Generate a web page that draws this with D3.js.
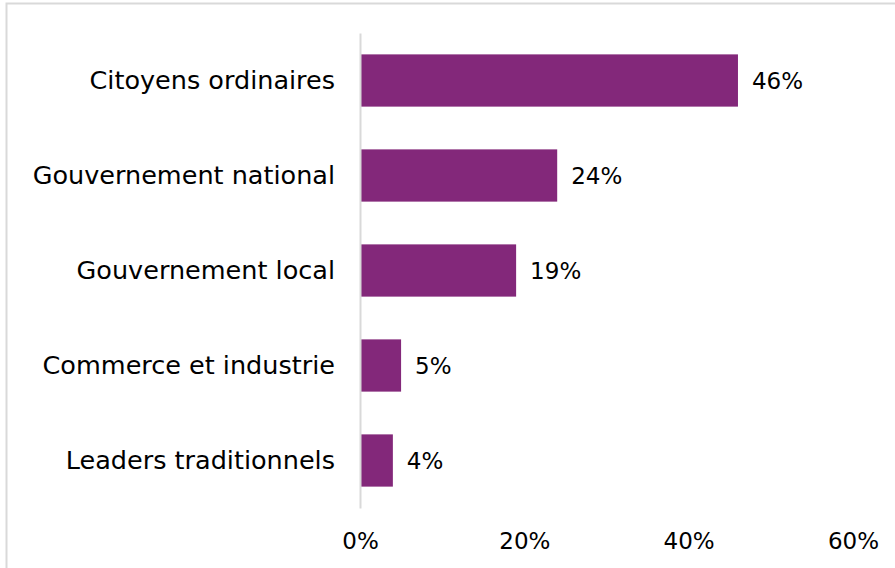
<!DOCTYPE html>
<html>
<head>
<meta charset="utf-8">
<script src="https://cdn.jsdelivr.net/npm/d3@7"></script>
<style>
  html, body { margin: 0; padding: 0; background: #fff; }
  svg { display: block; }
  text { font-family: "DejaVu Sans", sans-serif; fill: #000; }
</style>
</head>
<body>
<svg id="chart" width="895" height="568"></svg>
<script>
// Who should be responsible for the problem (share of respondents)
const categories = [
  "Citoyens ordinaires",
  "Gouvernement national",
  "Gouvernement local",
  "Commerce et industrie",
  "Leaders traditionnels"
];
const values = [0.46, 0.24, 0.19, 0.05, 0.04];
const tickValues = [0, 0.2, 0.4, 0.6];

const svg = d3.select("#chart");
const W = 895, H = 568;

// outer frame
svg.append("rect")
  .attr("x", 6.5).attr("y", 3.5)
  .attr("width", W + 10).attr("height", H + 10)
  .attr("fill", "none").attr("stroke", "#d9d9d9").attr("stroke-width", 2);

const plot = { left: 360, right: 853, top: 33, bottom: 508 };

const x = d3.scaleLinear().domain([0, 0.6]).range([plot.left, plot.right]);
const y = d3.scaleBand().domain(categories).range([plot.top, plot.bottom]).paddingInner(0.45).paddingOuter(0.225);

// bars
svg.append("g").selectAll("rect")
  .data(values)
  .join("rect")
  .attr("x", x(0))
  .attr("y", (d, i) => y(categories[i]))
  .attr("width", d => x(d) - x(0))
  .attr("height", y.bandwidth())
  .attr("fill", "#83287a");

// value labels
svg.append("g").selectAll("text")
  .data(values)
  .join("text")
  .attr("x", d => x(d) + 14)
  .attr("y", (d, i) => y(categories[i]) + y.bandwidth() / 2)
  .attr("dy", "0.36em")
  .attr("font-size", 23)
  .text(d => d3.format(".0%")(d));

// category axis
const yAxis = svg.append("g")
  .attr("transform", `translate(${plot.left},0)`)
  .call(d3.axisLeft(y).tickSize(0).tickPadding(25));
yAxis.select(".domain").attr("stroke", "#d9d9d9").attr("stroke-width", 2);
yAxis.selectAll("text").attr("font-size", 25.5).attr("fill", "#000")
  .style("font-family", "DejaVu Sans, sans-serif");

// value axis (labels only)
const xAxis = svg.append("g")
  .attr("transform", `translate(0,${plot.bottom})`)
  .call(d3.axisBottom(x).tickValues(tickValues).tickFormat(d3.format(".0%")).tickSize(0).tickPadding(25));
xAxis.select(".domain").remove();
xAxis.selectAll("text").attr("font-size", 23).attr("fill", "#000")
  .style("font-family", "DejaVu Sans, sans-serif");
</script>
</body>
</html>
